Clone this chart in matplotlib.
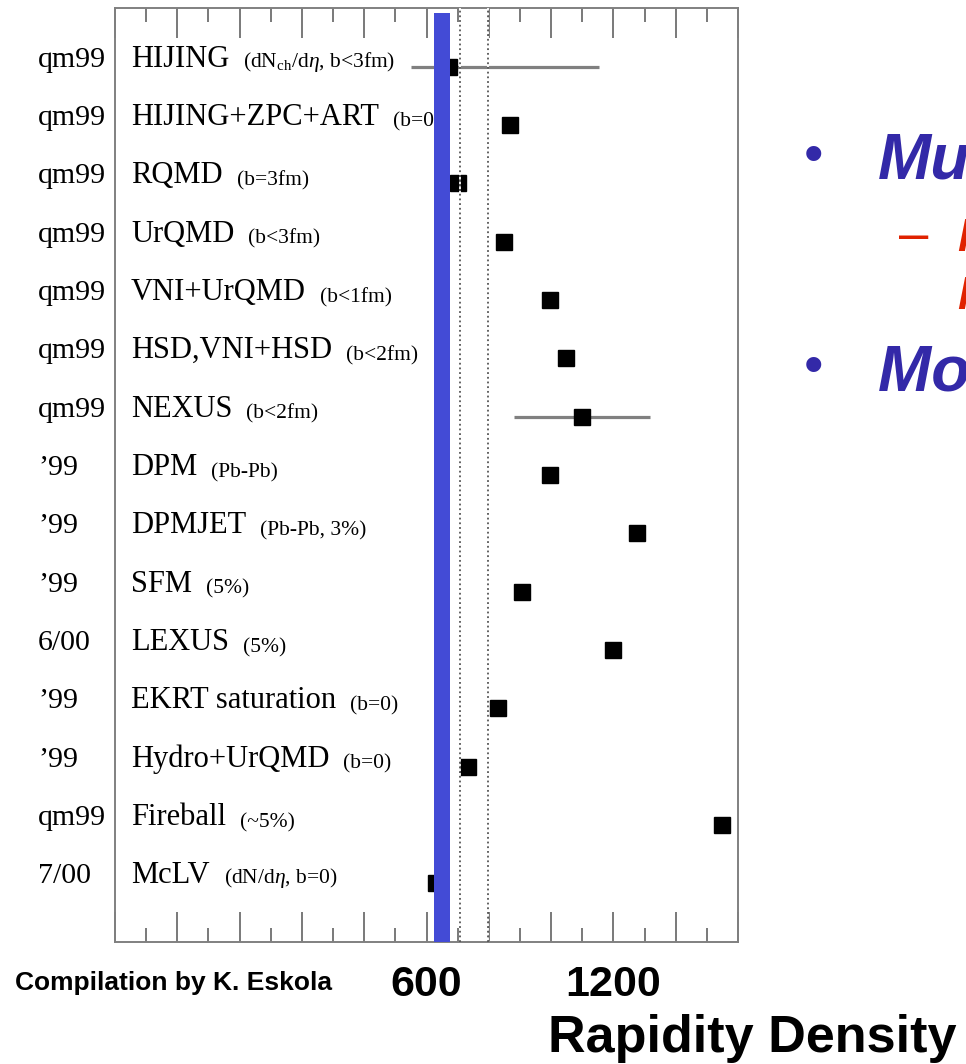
import matplotlib.pyplot as plt
from matplotlib.ticker import MultipleLocator
from matplotlib.transforms import blended_transform_factory

plt.rcParams['mathtext.fontset'] = 'custom'
plt.rcParams['mathtext.rm'] = 'Liberation Serif'
plt.rcParams['mathtext.it'] = 'Liberation Serif:italic'

# model predictions for dN/deta at RHIC (central Au+Au)
years = ["qm99", "qm99", "qm99", "qm99", "qm99", "qm99", "qm99", "\u201999",
         "\u201999", "\u201999", "6/00", "\u201999", "\u201999", "qm99", "7/00"]
models = ["HIJING", "HIJING+ZPC+ART", "RQMD", "UrQMD", "VNI+UrQMD",
          "HSD,VNI+HSD", "NEXUS", "DPM", "DPMJET", "SFM", "LEXUS",
          "EKRT saturation", "Hydro+UrQMD", "Fireball", "McLV"]
notes = [r"(dN$_{\rm ch}$/d$\eta$, b<3fm)", "(b=0)", "(b=3fm)", "(b<3fm)",
         "(b<1fm)", "(b<2fm)", "(b<2fm)", "(Pb-Pb)", "(Pb-Pb, 3%)", "(5%)",
         "(5%)", "(b=0)", "(b=0)", "(~5%)", r"(dN/d$\eta$, b=0)"]
density = [673, 867, 700, 849, 998, 1049, 1100, 998, 1277, 907, 1200,
           831, 732, 1550, 631]

# rows that carry a horizontal range
range_rows = [0, 6]
range_low = [551, 881]
range_high = [1153, 1317]

measured_band = (625, 675)
ref_lines = [707, 797]
axis_labels = [600, 1200]

W, H = 966, 1064
fig = plt.figure(figsize=(W / 100, H / 100), dpi=100)
ax = fig.add_axes([115 / W, 1 - 941.7 / H, 623 / W, 933.4 / H])

rows = list(range(len(models)))

ax.hlines(range_rows, range_low, range_high, color='#808080', lw=2.3, zorder=3.5)
ax.plot(density, rows, 's', color='black', ms=11.3, zorder=4)
ax.axvspan(*measured_band, ymin=0, ymax=0.9946, color='#434bd6', lw=0, zorder=5)
for x in ref_lines:
    ax.axvline(x, color='#555555', lw=1.3, ls=(0, (1, 1.6)), gapcolor='white', zorder=6)

ax.set_xlim(-400, 1600)
ax.set_ylim(15, -1)
ax.set_yticks([])
ax.xaxis.set_major_locator(MultipleLocator(200))
ax.xaxis.set_minor_locator(MultipleLocator(100))
ax.tick_params(axis='x', which='both', direction='in', top=True, bottom=True,
               labelbottom=False, color='#6e6e6e', width=1.3)
ax.tick_params(axis='x', which='major', length=21.5)
ax.tick_params(axis='x', which='minor', length=10)
for sp in ax.spines.values():
    sp.set_color('#808080')
    sp.set_linewidth(1.4)

serif = 'Liberation Serif'
row_tr = blended_transform_factory(fig.transFigure, ax.transData)
name_tr = blended_transform_factory(ax.transAxes, ax.transData)
for i in rows:
    ax.text(38 / W, i, years[i], transform=row_tr, fontsize=21.5,
            family=serif, va='baseline', ha='left')
    name = ax.text(0.0257, i, models[i], transform=name_tr,
                   fontsize=22, family=serif, va='baseline', ha='left', zorder=3)
    ax.annotate(notes[i], xy=(1, 0), xycoords=name, xytext=(10, 0),
                textcoords='offset points', fontsize=15.5, family=serif,
                va='bottom', ha='left', zorder=3)

sans = 'Liberation Sans'
lab_tr = blended_transform_factory(ax.transData, fig.transFigure)
for v in axis_labels:
    ax.text(v, 1 - 996.5 / H, str(v), transform=lab_tr, ha='center', va='baseline',
            fontsize=31, fontweight='bold', family=sans)

fig.text(15 / W, 1 - 990 / H, "Compilation by K. Eskola", fontsize=19,
         fontweight='bold', family=sans, va='baseline')
fig.text(548 / W, 1 - 1052 / H, "Rapidity Density", fontsize=37.5,
         fontweight='bold', family=sans, va='baseline')

# bullet text on the right
blue = '#3329a8'
red = '#e02200'
for yb, yt, txt in [(158, 179, "Multiplicity"), (369, 390.7, "Most models")]:
    fig.text(814 / W, 1 - yb / H, "\u2022", fontsize=40, color=blue, family=sans,
             ha='center', va='center')
    fig.text(878 / W, 1 - yt / H, txt, fontsize=46, color=blue, family=sans,
             fontweight='bold', style='italic', va='baseline')
fig.text(899 / W, 1 - 251 / H, "\u2013", fontsize=38, color=red, family=sans, va='baseline')
fig.text(957 / W, 1 - 251 / H, "Measured", fontsize=34, color=red, family=sans,
         fontweight='bold', style='italic', va='baseline')
fig.text(957 / W, 1 - 309 / H, "Mid-rapidity", fontsize=34, color=red, family=sans,
         fontweight='bold', style='italic', va='baseline')

fig.savefig('out.png', dpi=100)
